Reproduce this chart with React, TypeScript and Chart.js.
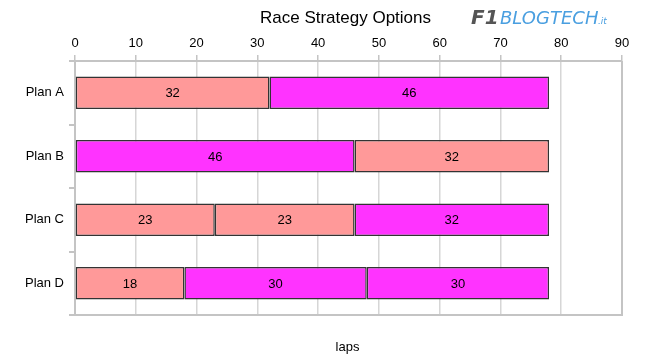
import React, { useEffect, useRef } from "react";
import { Chart, registerables } from "chart.js";

Chart.register(...registerables);

const categories = ["Plan A", "Plan B", "Plan C", "Plan D"];
const stint1 = [32, 46, 23, 18];
const stint2 = [46, 32, 23, 30];
const stint3 = [null, null, 32, 30];
const SALMON = "#ff9999";
const MAGENTA = "#ff33ff";
const stint1Colors = [SALMON, MAGENTA, SALMON, SALMON];
const stint2Colors = [MAGENTA, SALMON, SALMON, MAGENTA];
const stint3Colors = [MAGENTA, MAGENTA, MAGENTA, MAGENTA];
const xTicks = [0, 10, 20, 30, 40, 50, 60, 70, 80, 90];
const titleText = "Race Strategy Options";
const axisTitle = "laps";

const FONT = "'Liberation Sans', Arial, sans-serif";

const labelsPlugin = {
  id: "barLabels",
  afterDatasetsDraw(chart: any) {
    const ctx = chart.ctx;
    ctx.save();
    ctx.font = `13px ${FONT}`;
    ctx.fillStyle = "#000";
    ctx.textAlign = "center";
    ctx.textBaseline = "middle";
    chart.data.datasets.forEach((ds: any, di: number) => {
      const meta = chart.getDatasetMeta(di);
      meta.data.forEach((bar: any, i: number) => {
        const v = ds.data[i];
        if (v == null) return;
        const p = bar.getProps(["x", "y", "base"], true);
        ctx.fillText(String(v), (p.x + p.base) / 2, p.y + 1);
      });
    });
    ctx.restore();
  },
};

const framePlugin = {
  id: "frame",
  beforeDatasetsDraw(chart: any) {
    const { ctx, chartArea: a } = chart;
    ctx.save();
    ctx.strokeStyle = "#c4c4c4";
    ctx.lineWidth = 2;
    ctx.beginPath();
    ctx.moveTo(a.right, a.top);
    ctx.lineTo(a.right, a.bottom);
    ctx.lineTo(a.left - 6, a.bottom);
    ctx.stroke();
    ctx.restore();
  },
  afterDraw(chart: any) {
    const { ctx, chartArea: a } = chart;
    ctx.save();
    const cx = (a.left + a.right) / 2 - 3;
    ctx.fillStyle = "#000";
    ctx.textAlign = "center";
    ctx.textBaseline = "middle";
    ctx.font = `17px ${FONT}`;
    ctx.fillText(titleText, cx, 18);
    ctx.font = `13px ${FONT}`;
    ctx.fillText(axisTitle, cx + 2, 347);
    // logo
    ctx.textAlign = "left";
    ctx.textBaseline = "alphabetic";
    ctx.fillStyle = "#555555";
    ctx.font = `italic bold 20px 'DejaVu Sans', sans-serif`;
    ctx.fillText("F1", 471, 24);
    ctx.fillStyle = "#4a9fe0";
    ctx.font = `italic 18px 'DejaVu Sans', sans-serif`;
    ctx.save();
    ctx.translate(500, 24);
    ctx.scale(1.0, 0.95);
    ctx.fillText("BLOGTECH", 0, 0);
    ctx.restore();
    ctx.font = `italic 9px 'DejaVu Sans', sans-serif`;
    ctx.fillText(".it", 598, 24);
    ctx.restore();
  },
};

export default function App() {
  const ref = useRef<HTMLCanvasElement | null>(null);
  useEffect(() => {
    document.body.style.margin = "0";
    const canvas = ref.current!;
    const chart = new Chart(canvas, {
      type: "bar",
      data: {
        labels: categories,
        datasets: [
          { label: "Stint 1", data: stint1, backgroundColor: stint1Colors, borderColor: "#333", borderWidth: 1.5, borderSkipped: false },
          { label: "Stint 2", data: stint2, backgroundColor: stint2Colors, borderColor: "#333", borderWidth: 1.5, borderSkipped: false },
          { label: "Stint 3", data: stint3 as any, backgroundColor: stint3Colors, borderColor: "#333", borderWidth: 1.5, borderSkipped: false },
        ],
      },
      options: {
        indexAxis: "y",
        responsive: false,
        animation: false,
        layout: { padding: { left: 0, right: 31, top: 0, bottom: 44 } },
        datasets: { bar: { barPercentage: 0.51, categoryPercentage: 1 } },
        plugins: { legend: { display: false }, tooltip: { enabled: false }, title: { display: false } },
        scales: {
          x: {
            position: "top",
            stacked: true,
            min: 0,
            max: 90,
            afterFit(s: any) { s.height = 61; },
            afterBuildTicks(s: any) { s.ticks = xTicks.map((v) => ({ value: v })); },
            ticks: { color: "#000", font: { family: FONT, size: 13 }, padding: 4 },
            grid: { color: "#d6d6d6", lineWidth: 1.5, tickLength: 6, tickColor: "#c4c4c4" },
            border: { display: true, color: "#c4c4c4", width: 2 },
          },
          y: {
            stacked: true,
            afterFit(s: any) { s.width = 75; },
            ticks: { color: "#000", font: { family: FONT, size: 13 }, padding: 5 },
            grid: { offset: true, drawOnChartArea: false, tickLength: 6, color: "#c4c4c4", lineWidth: 2 },
            border: { display: true, color: "#c4c4c4", width: 2 },
          },
        },
      },
      plugins: [framePlugin, labelsPlugin],
    } as any);
    return () => chart.destroy();
  }, []);
  return <canvas ref={ref} width={653} height={359} style={{ display: "block" }} />;
}
